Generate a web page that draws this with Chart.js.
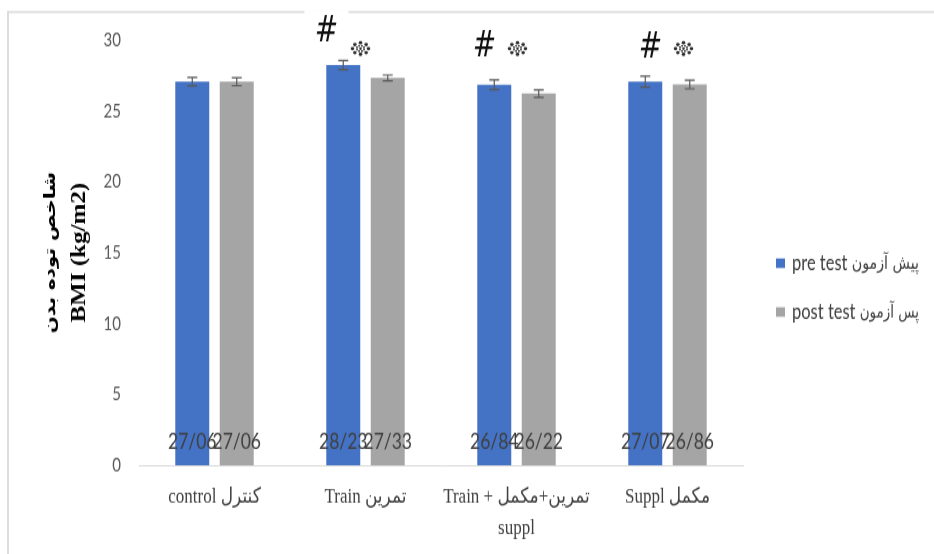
<!DOCTYPE html>
<html>
<head>
<meta charset="utf-8">
<script src="https://cdn.jsdelivr.net/npm/chart.js@4.4.1/dist/chart.umd.min.js"></script>
<style>
  html, body { margin: 0; padding: 0; background: #ffffff; overflow: hidden; }
</style>
</head>
<body>
<!-- the chart is drawn on a shorter canvas and shown stretched to full height -->
<canvas id="c" width="934" height="443" style="display:block;width:934px;height:554px"></canvas>
<script>
// Groups on the x axis (multi-line labels are arrays)
const categories = [
  ['control کنترل'],
  ['Train تمرین'],
  ['Train + تمرین+مکمل', 'suppl'],
  ['Suppl مکمل']
];
const seriesNames = ['pre test پیش آزمون', 'post test پس آزمون'];
const axisTitle = ['شاخص توده بدن', 'BMI (kg/m2)'];

// Mean BMI per group
const preTest  = [27.06, 28.23, 26.84, 27.07];
const postTest = [27.06, 27.33, 26.22, 26.86];

// Error bar half-lengths
const preErr  = [0.30, 0.32, 0.34, 0.39];
const postErr = [0.28, 0.20, 0.27, 0.30];

// Significance marks per group: '#' and the dotted star
const hashMarks = [false, true, true, true];
const starMarks = [false, true, true, true];

// Y axis ticks
const yTicks = [0, 5, 10, 15, 20, 25, 30];

const BLUE = '#4472C4';
const GRAY = '#A5A5A5';
const TEXT = '#404040';
const SANS = "Lato, 'DejaVu Sans', sans-serif";
const SERIF = "'Liberation Serif', 'DejaVu Sans', serif";
const ARABIC = "'DejaVu Sans', sans-serif";

// Where the significance marks sit: x offset (px) from the group centre, y in axis units
const markPlacement = {
  hash: [null, { dx: -39, y: 30.6 }, { dx: -32, y: 29.55 }, { dx: -17, y: 29.5 }],
  star: [null, { dx: -5, y: 29.4 }, { dx: 1, y: 29.4 }, { dx: 16, y: 29.4 }]
};

// Frame lines along the top and left edges of the canvas
const framePlugin = {
  id: 'frame',
  beforeDraw(chart) {
    const ctx = chart.ctx;
    ctx.save();
    ctx.fillStyle = '#ffffff';
    ctx.fillRect(0, 0, chart.width, chart.height);
    ctx.fillStyle = '#dcdcdc';
    ctx.fillRect(7, 8.8, chart.width - 7, 1.6);
    ctx.fillRect(7, 8.8, 2, chart.height);
    ctx.restore();
  }
};

// Two-line rotated axis title: Persian line on the outside, English line next to the ticks
const axisTitlePlugin = {
  id: 'axisTitle',
  afterDraw(chart) {
    const ctx = chart.ctx;
    const area = chart.chartArea;
    const cy = (area.top + area.bottom) / 2;
    ctx.save();
    ctx.fillStyle = '#000000';
    ctx.textAlign = 'center';
    ctx.textBaseline = 'middle';
    ctx.translate(51, cy);
    ctx.rotate(-Math.PI / 2);
    ctx.font = 'bold 16px ' + ARABIC;
    ctx.fillText(axisTitle[0], 0, 0);
    ctx.font = 'bold 20px ' + SERIF;
    ctx.fillText(axisTitle[1], 0, 29);
    ctx.restore();
  }
};

// Error bars, value labels, significance marks and the legend
const overlayPlugin = {
  id: 'overlay',
  afterDatasetsDraw(chart) {
    const ctx = chart.ctx;
    const y = chart.scales.y;
    const x = chart.scales.x;
    const errs = [preErr, postErr];

    ctx.save();
    // error bars
    chart.data.datasets.forEach((ds, di) => {
      const meta = chart.getDatasetMeta(di);
      meta.data.forEach((bar, i) => {
        const v = ds.data[i];
        const e = errs[di][i];
        const yt = y.getPixelForValue(v + e);
        const yb = y.getPixelForValue(v - e);
        ctx.strokeStyle = '#595959';
        ctx.lineWidth = 1.2;
        ctx.beginPath();
        ctx.moveTo(bar.x, yt); ctx.lineTo(bar.x, yb);
        ctx.moveTo(bar.x - 5, yt); ctx.lineTo(bar.x + 5, yt);
        ctx.moveTo(bar.x - 5, yb); ctx.lineTo(bar.x + 5, yb);
        ctx.stroke();
      });
    });

    // value labels near the base of each bar, decimal written with '/'
    ctx.font = '17.5px ' + SANS;
    ctx.fillStyle = TEXT;
    ctx.textAlign = 'center';
    ctx.textBaseline = 'middle';
    chart.data.datasets.forEach((ds, di) => {
      const meta = chart.getDatasetMeta(di);
      meta.data.forEach((bar, i) => {
        const txt = ds.data[i].toFixed(2).replace('.', '/');
        ctx.fillText(txt, bar.x, chart.chartArea.bottom - 19);
      });
    });

    // significance marks
    categories.forEach((c, i) => {
      const cx = x.getPixelForValue(i);
      if (hashMarks[i]) {
        const p = markPlacement.hash[i];
        const hx = cx + p.dx, hy = y.getPixelForValue(p.y);
        ctx.fillStyle = '#ffffff';
        ctx.fillRect(hx - 22, hy - 17, 44, 32);
        ctx.fillStyle = '#111111';
        ctx.font = 'italic 28px ' + ARABIC;
        ctx.textAlign = 'center';
        ctx.textBaseline = 'middle';
        ctx.fillText('#', hx, hy + 1);
      }
      if (starMarks[i]) {
        const p = markPlacement.star[i];
        const sx = cx + p.dx, sy = y.getPixelForValue(p.y);
        ctx.fillStyle = '#2e2e2e';
        for (let k = 0; k < 8; k++) {
          const a = k * Math.PI / 4;
          ctx.beginPath();
          ctx.ellipse(sx + Math.cos(a) * 8, sy + Math.sin(a) * 4.6, 1.8, 1.4, 0, 0, Math.PI * 2);
          ctx.fill();
          ctx.beginPath();
          ctx.ellipse(sx + Math.cos(a + Math.PI / 8) * 3.8, sy + Math.sin(a + Math.PI / 8) * 2.3, 1.0, 0.8, 0, 0, Math.PI * 2);
          ctx.fill();
        }
        ctx.beginPath();
        ctx.ellipse(sx, sy, 1.3, 1.1, 0, 0, Math.PI * 2);
        ctx.fill();
      }
    });

    // legend to the right of the plot
    const lx = 776;
    const ly = [210.5, 249.5];
    chart.data.datasets.forEach((ds, di) => {
      ctx.fillStyle = ds.backgroundColor;
      ctx.fillRect(lx, ly[di] - 3.8, 9, 7.6);
      const label = ds.label;
      const cut = label.search(/[\u0600-\u06FF]/);
      const latin = label.slice(0, cut).trim();
      const persian = label.slice(cut).trim();
      ctx.fillStyle = TEXT;
      ctx.textAlign = 'left';
      ctx.textBaseline = 'middle';
      ctx.font = '16.5px ' + SANS;
      ctx.fillText(latin, lx + 16, ly[di]);
      const px = lx + 16 + ctx.measureText(latin + ' ').width;
      ctx.font = '15px ' + ARABIC;
      const pw = ctx.measureText(persian).width;
      const room = 919 - px;
      ctx.save();
      ctx.translate(px, ly[di] + 1);
      if (pw > room) ctx.scale(room / pw, 1);
      ctx.fillText(persian, 0, 0);
      ctx.restore();
    });
    ctx.restore();
  }
};

new Chart(document.getElementById('c'), {
  type: 'bar',
  data: {
    labels: categories,
    datasets: [
      { label: seriesNames[0], data: preTest, backgroundColor: BLUE,
        categoryPercentage: 0.589, barPercentage: 0.764 },
      { label: seriesNames[1], data: postTest, backgroundColor: GRAY,
        categoryPercentage: 0.589, barPercentage: 0.764 }
    ]
  },
  options: {
    responsive: false,
    devicePixelRatio: 1,
    animation: false,
    layout: { padding: { left: 29, top: 32, right: 191, bottom: 0 } },
    plugins: {
      legend: { display: false },
      tooltip: { enabled: false }
    },
    scales: {
      x: {
        grid: { display: false, drawTicks: false },
        border: { display: true, color: '#d9d9d9', width: 1 },
        ticks: {
          color: TEXT,
          font: { family: SERIF, size: 17, lineHeight: 1.47 },
          padding: 13,
          maxRotation: 0,
          autoSkip: false
        },
        afterFit(scale) { scale.height = 71; }
      },
      y: {
        min: 0,
        max: 30,
        grid: { display: false, drawTicks: false },
        border: { display: false },
        afterBuildTicks(scale) { scale.ticks = yTicks.map(v => ({ value: v })); },
        ticks: {
          color: '#595959',
          font: { family: SANS, size: 15 },
          padding: 18
        },
        afterFit(scale) { scale.width = 110; }
      }
    }
  },
  plugins: [framePlugin, axisTitlePlugin, overlayPlugin]
});
</script>
</body>
</html>
